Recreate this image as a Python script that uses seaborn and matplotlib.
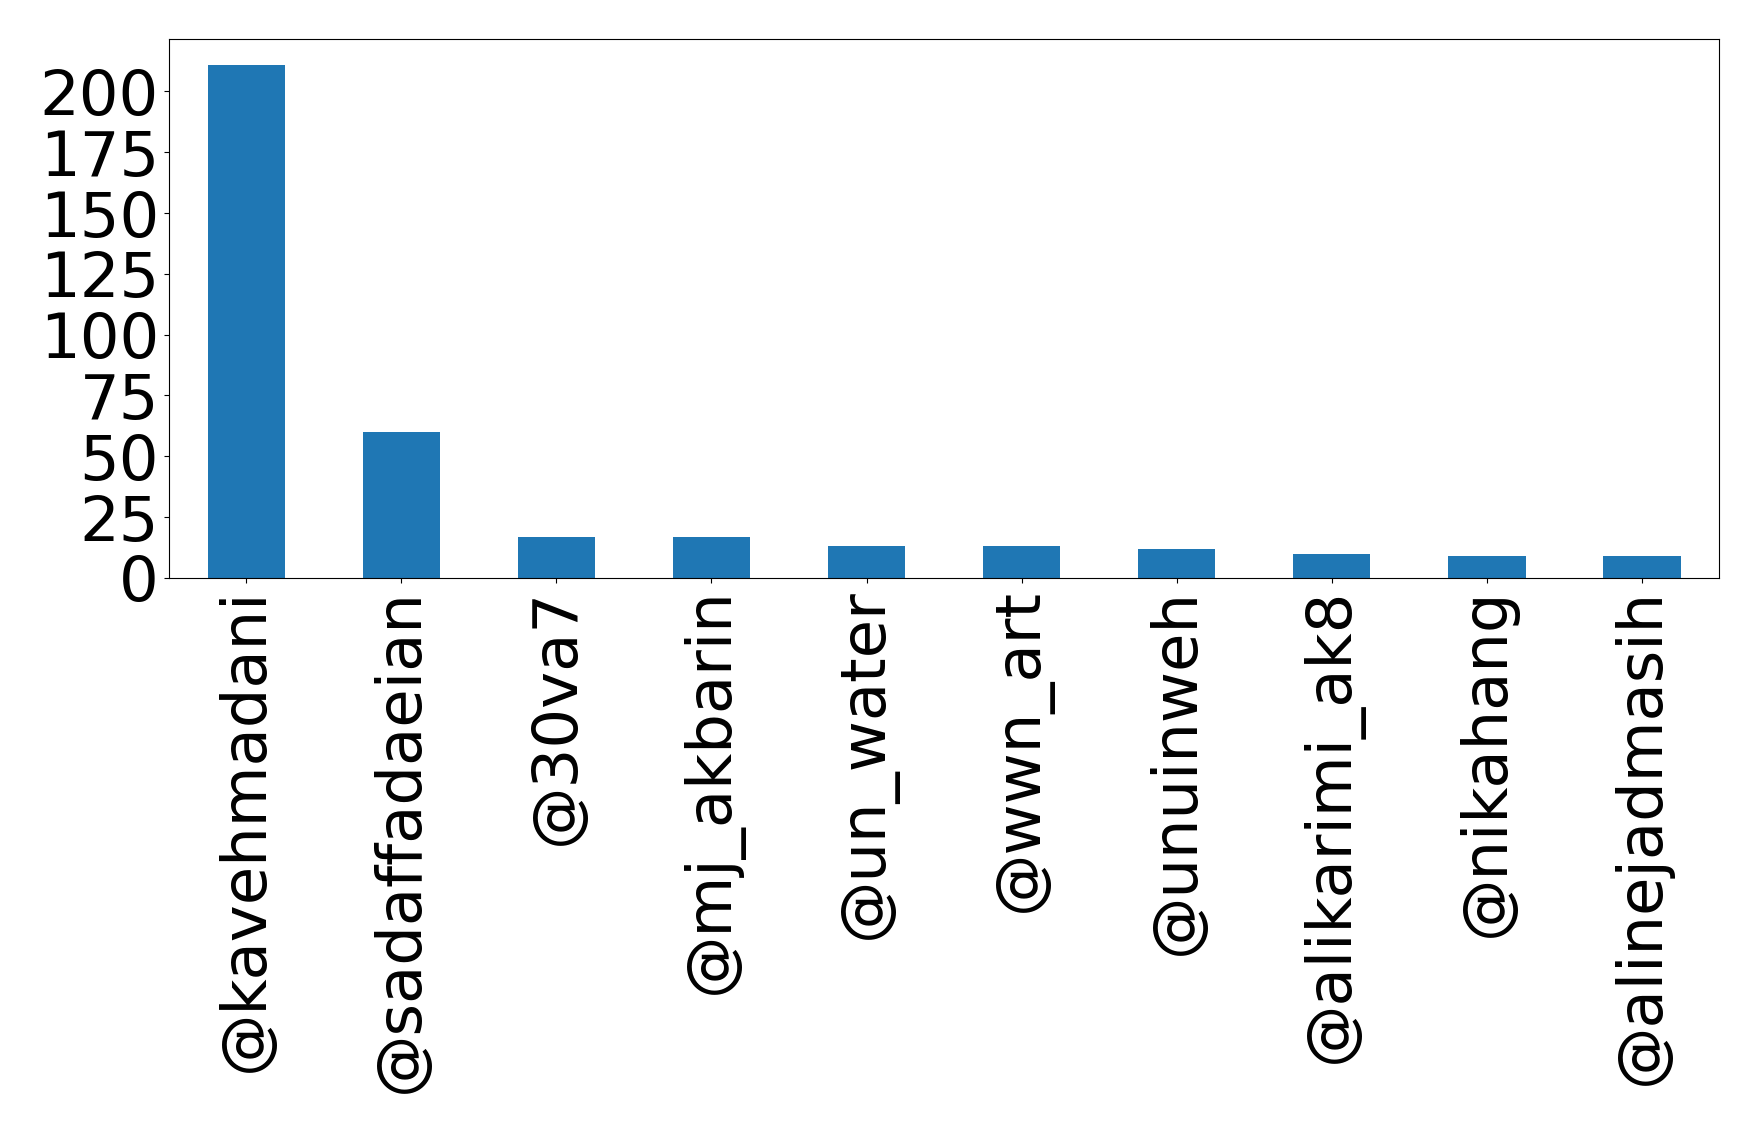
import matplotlib
matplotlib.use("Agg")
import matplotlib.pyplot as plt
import pandas as pd
import seaborn as sns
from matplotlib.ticker import MultipleLocator

users = [
    "@kavehmadani",
    "@sadaffadaeian",
    "@30va7",
    "@mj_akbarin",
    "@un_water",
    "@wwn_art",
    "@unuinweh",
    "@alikarimi_ak8",
    "@nikahang",
    "@alinejadmasih",
]
counts = [211, 60, 17, 17, 13, 13, 12, 10, 9, 9]

BAR_COLOR = "#1f77b4"
FONT_SIZE = 45


def main() -> None:
    frame = pd.DataFrame({"user": users, "count": counts})

    plt.rcParams["font.family"] = ["DejaVu Sans"]
    fig, ax = plt.subplots(figsize=(17.58, 11.33), dpi=100)
    sns.barplot(
        data=frame,
        x="user",
        y="count",
        color=BAR_COLOR,
        saturation=1,
        width=0.5,
        ax=ax,
    )

    ax.set_xlim(-0.5, len(users) - 0.5)
    ax.set_ylim(0, max(counts) * 1.05)
    ax.yaxis.set_major_locator(MultipleLocator(25))
    ax.set_xlabel("")
    ax.set_ylabel("")
    ax.tick_params(axis="both", labelsize=FONT_SIZE)
    ax.tick_params(axis="x", labelrotation=90)

    fig.subplots_adjust(left=0.096, right=0.978, top=0.9656, bottom=0.4899)
    fig.savefig("out.png", dpi=100)
    plt.close(fig)


if __name__ == "__main__":
    main()
